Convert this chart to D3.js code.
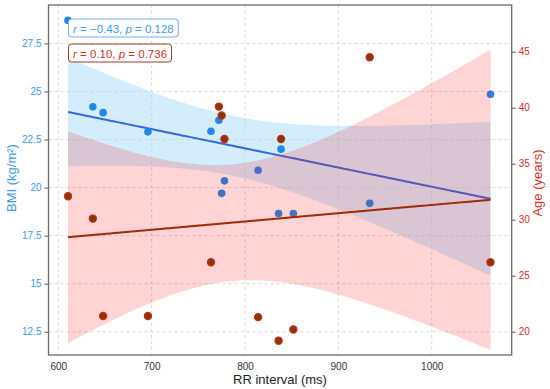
<!DOCTYPE html>
<html>
<head>
<meta charset="utf-8">
<script src="https://cdn.jsdelivr.net/npm/d3@7"></script>
<style>
  body { margin: 0; background: #fff; }
  svg { font-family: "Liberation Sans", Arial, sans-serif; }
</style>
</head>
<body>
<svg></svg>
<script>
// RR interval (ms) per subject
var rr  = [610.4, 637, 648, 696, 763.6, 772, 775, 778, 814, 836, 838.6, 851.8, 933.6, 1063];
// BMI (kg/m2)
var bmi = [28.7, 24.2, 23.9, 22.9, 22.93, 23.5, 19.7, 20.35, 20.9, 18.65, 22.0, 18.65, 19.18, 24.86];
// Age (years)
var age = [32.1, 30.1, 21.4, 21.4, 26.2, 40.1, 39.3, 37.2, 21.3, 19.2, 37.2, 20.2, 44.5, 26.2];

var xTicks = [600, 700, 800, 900, 1000];
var bmiTicks = [12.5, 15, 17.5, 20, 22.5, 25, 27.5];
var ageTicks = [20, 25, 30, 35, 40, 45];
var bmiStat = "r = −0.43, p = 0.128";
var ageStat = "r = 0.10, p = 0.736";

var WIDTH = 550, HEIGHT = 389;
var pL = 48.5, pR = 511.7, pT = 5, pB = 355;

var svg = d3.select("svg").attr("width", WIDTH).attr("height", HEIGHT);

var x = d3.scaleLinear().domain([589.5, 1085.7]).range([pL, pR]);
var yB = d3.scaleLinear().domain([11.29, 29.5]).range([pB, pT]);
var yA = d3.scaleLinear().domain([17.92, 49.17]).range([pB, pT]);

// least squares fit + 95% CI of the mean
function fit(xs, ys) {
    var n = xs.length, mx = d3.mean(xs), my = d3.mean(ys);
    var sxx = 0, sxy = 0;
    xs.forEach(function (v, i) { sxx += (v - mx) * (v - mx); sxy += (v - mx) * (ys[i] - my); });
    var b = sxy / sxx, a = my - b * mx;
    var sse = 0;
    xs.forEach(function (v, i) { var e = ys[i] - (a + b * v); sse += e * e; });
    var s = Math.sqrt(sse / (n - 2)), t = 2.179;
    var lo = d3.min(xs), hi = d3.max(xs);
    return d3.range(0, 101).map(function (k) {
        var xv = lo + (hi - lo) * k / 100;
        var yv = a + b * xv;
        var h = t * s * Math.sqrt(1 / n + (xv - mx) * (xv - mx) / sxx);
        return { x: xv, y: yv, lo: yv - h, hi: yv + h };
    });
}

var g = svg.append("g");

// grid
g.selectAll(".gx").data(xTicks).enter().append("line")
    .attr("x1", d => x(d)).attr("x2", d => x(d))
    .attr("y1", pT).attr("y2", pB)
    .attr("stroke", "#cfcfcf").attr("stroke-width", 0.8).attr("stroke-dasharray", "3,3");
g.selectAll(".gy").data(bmiTicks).enter().append("line")
    .attr("x1", pL).attr("x2", pR)
    .attr("y1", d => yB(d)).attr("y2", d => yB(d))
    .attr("stroke", "#cfcfcf").attr("stroke-width", 0.8).attr("stroke-dasharray", "3,3");

function layer(ys, yScale, bandFill, bandOp, lineCol, drawPts) {
    var f = fit(rr, ys);
    g.append("path").datum(f)
        .attr("d", d3.area().x(d => x(d.x)).y0(d => yScale(d.lo)).y1(d => yScale(d.hi)))
        .attr("fill", bandFill).attr("fill-opacity", bandOp);
    g.append("path").datum(f)
        .attr("d", d3.line().x(d => x(d.x)).y(d => yScale(d.y)))
        .attr("fill", "none").attr("stroke", lineCol).attr("stroke-width", 2);
    drawPts(ys, yScale);
}

layer(bmi, yB, "#a8dcfb", 0.5, "#3568dc", function (ys, ys2) {
    g.selectAll(".pb").data(rr).enter().append("circle")
        .attr("cx", d => x(d)).attr("cy", (d, i) => ys2(ys[i])).attr("r", 3.8)
        .attr("fill", "#2387e8");
});

layer(age, yA, "#ff0000", 0.17, "#a02a05", function (ys, ys2) {
    g.selectAll(".pa").data(rr).enter().append("circle")
        .attr("cx", d => x(d)).attr("cy", (d, i) => ys2(ys[i])).attr("r", 3.6)
        .attr("fill", "#883806").attr("stroke", "#cc2a18").attr("stroke-width", 1.2);
});

// frame
svg.append("rect").attr("x", pL).attr("y", pT)
    .attr("width", pR - pL).attr("height", pB - pT)
    .attr("fill", "none").attr("stroke", "#6b6b6b").attr("stroke-width", 1.3);

// axes
var xAxis = svg.append("g").attr("transform", "translate(0," + pB + ")")
    .call(d3.axisBottom(x).tickValues(xTicks).tickFormat(d3.format("d")).tickSize(0).tickPadding(8));
var lAxis = svg.append("g").attr("transform", "translate(" + pL + ",0)")
    .call(d3.axisLeft(yB).tickValues(bmiTicks).tickFormat(d3.format("~g")).tickSize(4).tickPadding(3));
var rAxis = svg.append("g").attr("transform", "translate(" + pR + ",0)")
    .call(d3.axisRight(yA).tickValues(ageTicks).tickFormat(d3.format("d")).tickSize(4).tickPadding(3));

[xAxis, lAxis, rAxis].forEach(function (a) {
    a.select(".domain").remove();
    a.selectAll("text").attr("font-size", 10).attr("font-family", "Liberation Sans, Arial, sans-serif");
});
xAxis.selectAll("text").attr("fill", "#333");
lAxis.selectAll("text").attr("fill", "#3d9be6");
lAxis.selectAll("line").attr("stroke", "#555");
rAxis.selectAll("text").attr("fill", "#d2301e");
rAxis.selectAll("line").attr("stroke", "#555");

// axis titles
svg.append("text").attr("x", 280).attr("y", 384)
    .attr("text-anchor", "middle").attr("font-size", 13).attr("fill", "#222")
    .text("RR interval (ms)");
svg.append("text").attr("transform", "translate(16,178) rotate(-90)")
    .attr("text-anchor", "middle").attr("font-size", 13).attr("fill", "#3d9be6")
    .text("BMI (kg/m²)");
svg.append("text").attr("transform", "translate(542,183) rotate(-90)")
    .attr("text-anchor", "middle").attr("font-size", 13).attr("fill", "#d2301e")
    .text("Age (years)");

// stat boxes
function statBox(yTop, label, txtCol, boxCol) {
    var bg = svg.append("g");
    var rect = bg.append("rect").attr("fill", "#fff").attr("stroke", boxCol)
        .attr("stroke-width", 1).attr("rx", 3);
    var t = bg.append("text").attr("x", 73).attr("y", yTop + 13.5)
        .attr("font-size", 11.5).attr("fill", txtCol);
    label.split(/(r|p)(?= =)/).forEach(function (p) {
        if (p === "") return;
        var ts = t.append("tspan").text(p);
        if (p === "r" || p === "p") ts.attr("font-style", "italic");
    });
    var bb = t.node().getBBox();
    rect.attr("x", 68.5).attr("y", yTop).attr("width", bb.width + 9).attr("height", 18);
}
statBox(19, bmiStat, "#3d9be6", "#72aef0");
statBox(44, ageStat, "#d2301e", "#9a3a1c");
</script>
</body>
</html>
